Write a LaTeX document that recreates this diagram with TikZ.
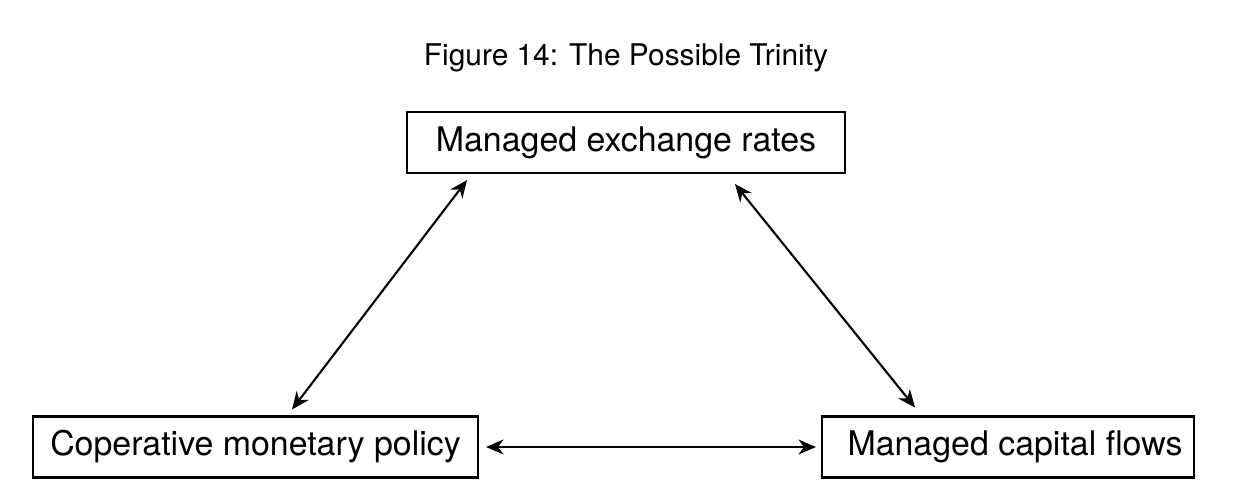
\documentclass[tikz,border=0pt]{standalone}
\usepackage{fontspec}
\setmainfont{TeX Gyre Heros}
\usetikzlibrary{positioning,arrows.meta}

\begin{document}
\begin{tikzpicture}[x=0.02cm, y=-0.02cm,
    box/.style={rectangle, draw, line width=1.2pt, minimum height=1.22cm, inner sep=0pt, font=\fontsize{19.3}{23}\selectfont},
    link/.style={line width=1.2pt, {Stealth[length=10pt,width=8.5pt]}-{Stealth[length=10pt,width=8.5pt]}}]
      \useasboundingbox (0,0) rectangle (1256,500);

      % Titolo
      \node (T) at (626,66) [anchor=base, font=\fontsize{17}{21}\selectfont] {Figure 14: The Possible Trinity};

      % Vertici
      \node (ER) at (626,142.5) [box, minimum width=8.76cm] {Managed exchange rates};
      \node (MP) at (255.5,447) [box, minimum width=8.9cm] {Coperative monetary policy};
      \node (CF) at (1008,447) [box, minimum width=7.44cm] {\hspace{0.28cm}Managed capital flows};

      % Collegamenti
      \draw[link] ([xshift=0.73cm, yshift=0.12cm]MP.north) -- ([xshift=-3.18cm, yshift=-0.12cm]ER.south);
      \draw[link] ([xshift=2.18cm, yshift=-0.2cm]ER.south) -- ([xshift=-1.86cm, yshift=0.16cm]CF.north);
      \draw[link] ([xshift=0.14cm]MP.east) -- ([xshift=-0.1cm]CF.west);
    \end{tikzpicture}
\end{document}
